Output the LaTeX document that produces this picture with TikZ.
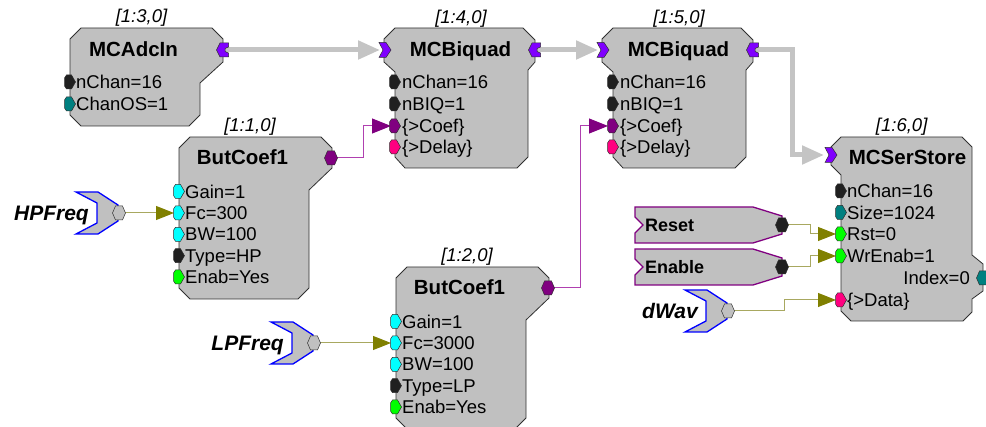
\documentclass[tikz,border=0pt]{standalone}
\usepackage{fontspec}
\setmainfont{Liberation Sans}
\usetikzlibrary{arrows.meta}
\definecolor{boxgray}{HTML}{C0C0C0}
\definecolor{edgec}{HTML}{303030}
\definecolor{pblack}{HTML}{202020}
\definecolor{pteal}{HTML}{008080}
\definecolor{pcyan}{HTML}{00FFFF}
\definecolor{pgreen}{HTML}{00FF00}
\definecolor{pplum}{HTML}{800080}
\definecolor{ppink}{HTML}{FF0080}
\definecolor{pviolet}{HTML}{8000FF}
\definecolor{wiregray}{HTML}{C4C4C4}
\definecolor{wireplum}{HTML}{B040B0}
\definecolor{wireolive}{HTML}{A8A860}
\definecolor{tipolive}{HTML}{808000}
\definecolor{chevblue}{HTML}{0000FF}
\tikzset{
  blockbox/.style={fill=boxgray, draw=edgec, line width=0.8pt, line join=miter},
  portst/.style={draw=edgec, line width=0.5pt},
  ttl/.style={font=\fontsize{20.5}{22}\selectfont\bfseries, anchor=base, inner sep=0pt},
  lbl/.style={font=\fontsize{18.5}{20}\selectfont\itshape, anchor=base, inner sep=0pt},
  prm/.style={font=\fontsize{18.5}{20}\selectfont, anchor=base west, inner sep=0pt},
  prme/.style={font=\fontsize{18.5}{20}\selectfont, anchor=base east, inner sep=0pt},
  srctxt/.style={font=\fontsize{21}{23}\selectfont\bfseries\itshape, anchor=base east, inner sep=0pt},
  tagtxt/.style={font=\fontsize{18}{20}\selectfont\bfseries, anchor=base west, inner sep=0pt},
  buswire/.style={draw=wiregray, line width=5pt, -{Triangle[length=22pt,width=18pt,color=wiregray]}},
  plumwire/.style={draw=wireplum, line width=1pt, -{Triangle[length=19pt,width=15pt,color=pplum]}},
  olivewire/.style={draw=wireolive, line width=1pt, -{Triangle[length=18pt,width=14pt,color=tipolive]}},
  chevshape/.style={fill=boxgray, draw=chevblue, line width=1.3pt, line join=miter},
  tagshape/.style={fill=boxgray, draw=pplum, line width=1.3pt, line join=miter},
}
% ports
\newcommand\inport[2]{\filldraw[portst,fill=#2,shift={(#1)}] (-5.5,-4)--(-3.5,-7)--(1.5,-7)--(5.5,0)--(1.5,7)--(-3.5,7)--(-5.5,4)--cycle;}
\newcommand\hexport[2]{\filldraw[portst,fill=#2,shift={(#1)}] (-6.5,0)--(-3.5,-7)--(3.5,-7)--(6.5,0)--(3.5,7)--(-3.5,7)--cycle;}
\newcommand\busout[1]{\filldraw[portst,fill=pviolet,shift={(#1)}] (-6.5,0)--(-3,-7)--(5.5,-7)--(5.5,-3)--(2,-1.5)--(2,1.5)--(5.5,3)--(5.5,7)--(-3,7)--cycle;}
\newcommand\busin[1]{\filldraw[portst,fill=pviolet,shift={(#1)}] (-6,-7.5)--(1,-7.5)--(6,0)--(1,7.5)--(-6,7.5)--(-2,0)--cycle;}
% MCBiquad block
\newcommand\biquadblk[3]{%
 \begin{scope}[shift={(#2,0)}]
 \draw[blockbox] (395,28)--(523,28)--(535,40)--(535,62)--(528,70)--(528,157)--(517,168)--(405,168)--(395,157)--(395,72)--(384,62)--(384,39)--cycle;
 \node[lbl] (#1-lbl) at (461,23.6) {#3};
 \node[ttl] (#1-ttl) at (460.5,56.3) {MCBiquad};
 \node[prm] (#1-t1) at (402,88.6) {nChan=16};
 \node[prm] (#1-t2) at (402,110.6) {nBIQ=1};
 \node[prm] (#1-t3) at (402,132.6) {\{>Coef\}};
 \node[prm] (#1-t4) at (402,153.6) {\{>Delay\}};
 \coordinate (#1-in) at (385,50);
 \coordinate (#1-out) at (535,50);
 \coordinate (#1-nchan) at (395,82);
 \coordinate (#1-nbiq) at (395,104);
 \coordinate (#1-coef) at (395,126);
 \coordinate (#1-delay) at (395,147);
 \end{scope}}
% ButCoef1 block
\newcommand\butcoef[6]{%
 \begin{scope}[shift={(#2,#3)}]
 \draw[blockbox] (190,137)--(321,137)--(332,148)--(332,168)--(309,190)--(309,288)--(298,299)--(190,299)--(179,288)--(179,148)--cycle;
 \node[lbl] (#1-lbl) at (250,131.6) {#4};
 \node[ttl] (#1-ttl) at (242.5,164.3) {ButCoef1};
 \node[prm] (#1-t1) at (185,198.1) {Gain=1};
 \node[prm] (#1-t2) at (185,219.6) {#5};
 \node[prm] (#1-t3) at (185,240.9) {BW=100};
 \node[prm] (#1-t4) at (185,262.3) {#6};
 \node[prm] (#1-t5) at (185,283.6) {Enab=Yes};
 \coordinate (#1-out) at (331,158);
 \coordinate (#1-gain) at (179,191.5);
 \coordinate (#1-fc) at (179,213);
 \coordinate (#1-bw) at (179,234.3);
 \coordinate (#1-type) at (179,255.7);
 \coordinate (#1-enab) at (179,277);
 \end{scope}}
% source chevron
\newcommand\chev[4]{%
 \filldraw[chevshape,shift={(#2,#3)}] (0,-21)--(22,-21)--(42,-8)--(42,8)--(22,21)--(0,21)--(21,10)--(21,-10)--cycle;
 \node[srctxt] (#1-txt) at ({#2+13},{#3+7.5}) {#4};
 \coordinate (#1-out) at ({#2+43},#3);}
% tag (Reset / Enable)
\newcommand\tagblk[3]{%
 \filldraw[tagshape,shift={(635,#2)}] (0,-18)--(118,-18)--(147,-9)--(147,9)--(118,18)--(0,18)--(0,8)--(8,0)--(0,-8)--cycle;
 \node[tagtxt] (#1-txt) at (645,{#2+6.5}) {#3};
 \coordinate (#1-out) at (782,#2);}
\begin{document}
\begin{tikzpicture}[x=1pt,y=-1pt]
\useasboundingbox (0,0) rectangle (986,427);
\clip (0,0) rectangle (986,427);

% ---- MCAdcIn
\draw[blockbox] (81,28)--(212,28)--(223,39)--(223,62)--(200,83)--(200,115)--(189,126)--(81,126)--(70,115)--(70,39)--cycle;
\node[lbl] (A-lbl) at (141.5,22.6) {[1:3,0]};
\node[ttl] (A-ttl) at (133.5,56.3) {MCAdcIn};
\node[prm] (A-t1) at (76,88.6) {nChan=16};
\node[prm] (A-t2) at (76,110.6) {ChanOS=1};
\coordinate (A-out) at (223,50);
\coordinate (A-nchan) at (70,82);
\coordinate (A-chanos) at (70,104);

% ---- MCBiquads
\biquadblk{B1}{0}{[1:4,0]}
\biquadblk{B2}{218}{[1:5,0]}

% ---- ButCoef1 blocks
\butcoef{C1}{0}{0}{[1:1,0]}{Fc=300}{Type=HP}
\butcoef{C2}{217}{130}{[1:2,0]}{Fc=3000}{Type=LP}

% ---- MCSerStore
\draw[blockbox] (841,137)--(962,137)--(972,147)--(972,255)--(983,264)--(983,291)--(972,299)--(972,312)--(963,321)--(851,321)--(841,311)--(841,175)--(831,165)--(831,147)--cycle;
\node[lbl] (S-lbl) at (901.7,131.6) {[1:6,0]};
\node[ttl] (S-ttl) at (907.5,164.3) {MCSerStore};
\node[prm] (S-t1) at (847,197.6) {nChan=16};
\node[prm] (S-t2) at (847,219.1) {Size=1024};
\node[prm] (S-t3) at (847,240.6) {Rst=0};
\node[prm] (S-t4) at (847,262.6) {WrEnab=1};
\node[prme] (S-t5) at (970,284.6) {Index=0};
\node[prm] (S-t6) at (847,306.6) {\{>Data\}};
\coordinate (S-in) at (831,155);
\coordinate (S-nchan) at (841,191);
\coordinate (S-size) at (841,212.5);
\coordinate (S-rst) at (841,234);
\coordinate (S-wr) at (841,256);
\coordinate (S-index) at (983,278);
\coordinate (S-data) at (841,300);

% ---- sources
\chev{HP}{76}{213}{HPFreq}
\chev{LP}{271}{343}{LPFreq}
\chev{DW}{685}{311}{dWav}
\tagblk{R}{225}{Reset}
\tagblk{E}{267}{Enable}

% ---- connectors
\draw[buswire, shorten >=5pt] (A-out) -- (B1-in);
\draw[buswire, shorten >=5pt] (B1-out) -- (B2-in);
\draw[buswire, shorten >=7pt] (B2-out) -- ++(39,0) |- (S-in);
\draw[plumwire, shorten >=4pt] (C1-out) -- ++(32,0) |- (B1-coef);
\draw[plumwire, shorten >=5pt] (C2-out) -- ++(32,0) |- (B2-coef);
\draw[olivewire, shorten >=5pt] (HP-out) -- (C1-fc);
\draw[olivewire, shorten >=5pt] (LP-out) -- (C2-fc);
\draw[olivewire, shorten >=5pt] (R-out) -- ++(28,0) |- (S-rst);
\draw[olivewire, shorten >=5pt] (E-out) -- ++(28,0) |- (S-wr);
\draw[olivewire, shorten >=5pt] (DW-out) -- ++(56,0) |- (S-data);

% ---- ports
\busout{A-out}
\inport{A-nchan}{pblack}
\inport{A-chanos}{pteal}
\busin{B1-in}\busout{B1-out}
\inport{B1-nchan}{pblack}\inport{B1-nbiq}{pblack}\inport{B1-coef}{pplum}\inport{B1-delay}{ppink}
\busin{B2-in}\busout{B2-out}
\inport{B2-nchan}{pblack}\inport{B2-nbiq}{pblack}\inport{B2-coef}{pplum}\inport{B2-delay}{ppink}
\hexport{C1-out}{pplum}
\inport{C1-gain}{pcyan}\inport{C1-fc}{pcyan}\inport{C1-bw}{pcyan}\inport{C1-type}{pblack}\inport{C1-enab}{pgreen}
\hexport{C2-out}{pplum}
\inport{C2-gain}{pcyan}\inport{C2-fc}{pcyan}\inport{C2-bw}{pcyan}\inport{C2-type}{pblack}\inport{C2-enab}{pgreen}
\busin{S-in}
\inport{S-nchan}{pblack}\inport{S-size}{pteal}\inport{S-rst}{pgreen}\inport{S-wr}{pgreen}\inport{S-data}{ppink}
\hexport{S-index}{pteal}
\hexport{HP-out}{boxgray}
\hexport{LP-out}{boxgray}
\hexport{DW-out}{boxgray}
\hexport{R-out}{pblack}
\hexport{E-out}{pblack}
\end{tikzpicture}
\end{document}
